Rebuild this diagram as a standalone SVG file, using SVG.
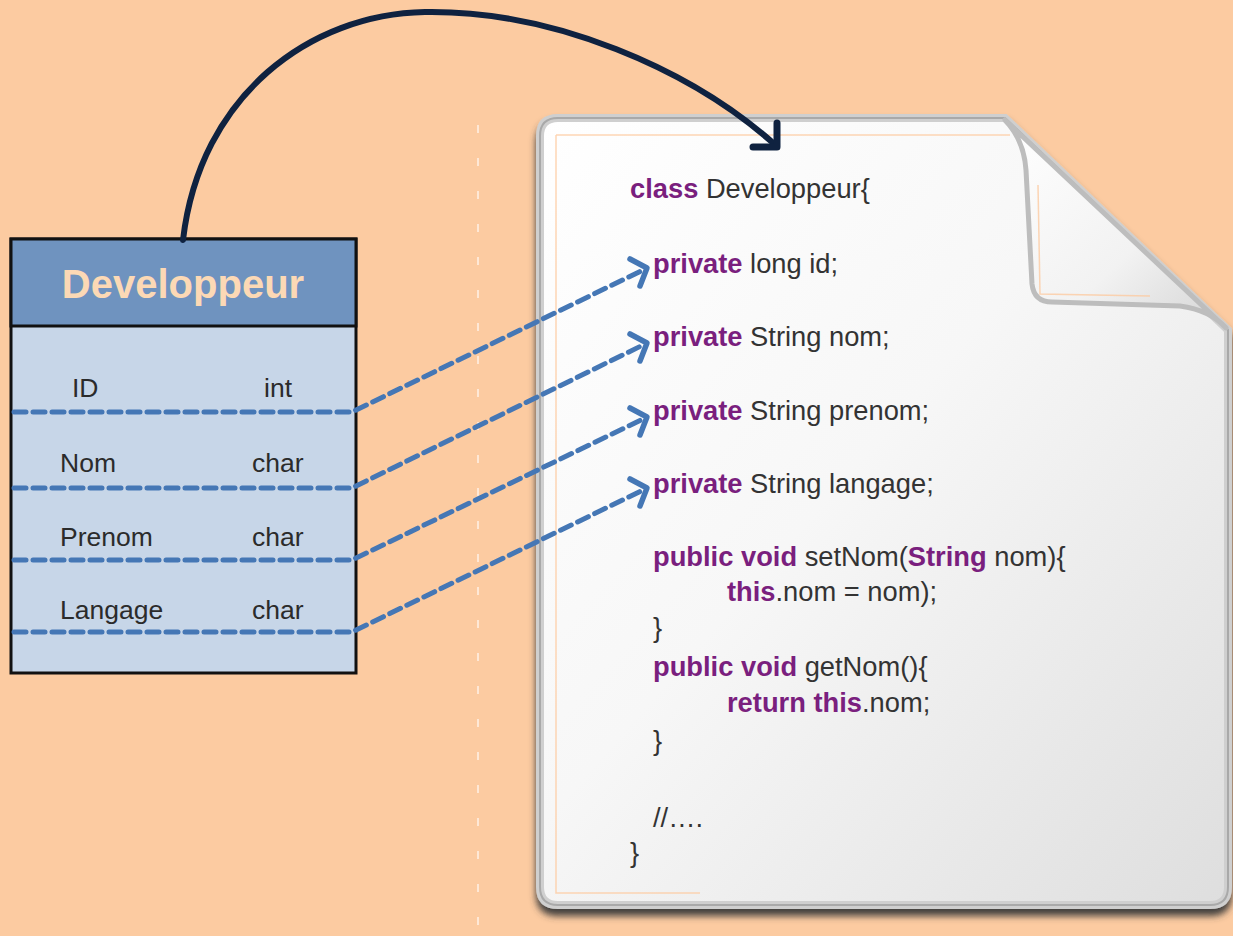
<svg xmlns="http://www.w3.org/2000/svg" width="1233" height="936" viewBox="0 0 1233 936">
  <defs>
    <style>
      .code { font-family: "Liberation Sans", Arial, sans-serif; font-size: 27.3px; fill: #333333; }
      .kw { fill: #7A1F7E; font-weight: bold; }
      .row { font-family: "Liberation Sans", Arial, sans-serif; font-size: 26.5px; fill: #2b2b2b; }
      .map { fill: none; stroke: #4577B5; stroke-width: 5; stroke-dasharray: 12 7; stroke-linecap: round; }
      .head { fill: none; stroke: #4577B5; stroke-width: 5.5; stroke-linecap: round; stroke-linejoin: round; }
    </style>
    <linearGradient id="pageGrad" x1="0" y1="0" x2="1" y2="1">
      <stop offset="0" stop-color="#ffffff"/>
      <stop offset="0.45" stop-color="#f7f7f7"/>
      <stop offset="1" stop-color="#dedede"/>
    </linearGradient>
    <linearGradient id="flapGrad" x1="0" y1="0" x2="1" y2="1">
      <stop offset="0" stop-color="#ffffff"/>
      <stop offset="0.6" stop-color="#f2f2f2"/>
      <stop offset="1" stop-color="#d4d4d4"/>
    </linearGradient>
    <filter id="shadow" x="-5%" y="-5%" width="110%" height="112%">
      <feDropShadow dx="0" dy="7" stdDeviation="3.5" flood-color="#3a3a3a" flood-opacity="0.95"/>
    </filter>
  </defs>

  <rect x="0" y="0" width="1233" height="936" fill="#FCCBA1"/>

  <!-- faint vertical divider -->
  <line x1="478" y1="125" x2="478" y2="936" stroke="#ffffff" stroke-opacity="0.75" stroke-width="1.5" stroke-dasharray="8 25"/>

  <!-- document node -->
  <g id="document">
    <path d="M558,118 L1005,118 L1228,330 L1228,887 Q1228,905 1210,905 L558,905 Q540,905 540,887 L540,136 Q540,118 558,118 Z" fill="url(#pageGrad)" stroke="#cfcfcf" stroke-width="8" filter="url(#shadow)"/>
    <path d="M558,118 L1005,118 L1228,330 L1228,887 Q1228,905 1210,905 L558,905 Q540,905 540,887 L540,136 Q540,118 558,118 Z" fill="none" stroke="#a9a9a9" stroke-width="2"/>
    <path d="M556,135 L1010,135 M556,135 L556,893 L700,893" fill="none" stroke="#FCCBA1" stroke-width="1.5" stroke-opacity="0.8"/>
    <!-- folded corner -->
    <path d="M1005,120 Q1024,140 1026,170 L1032,284 Q1034,302 1052,302 L1180,306 Q1210,310 1226,328 Z" fill="url(#flapGrad)" stroke="#bdbdbd" stroke-width="5" stroke-linejoin="round"/>
    <path d="M1038,185 L1040,294 L1150,296" fill="none" stroke="#FCCBA1" stroke-width="1.5" stroke-opacity="0.8"/>
    <text class="code">
      <tspan x="630" y="198"><tspan class="kw">class</tspan> Developpeur{</tspan>
      <tspan x="653" y="273"><tspan class="kw">private</tspan> long id;</tspan>
      <tspan x="653" y="346"><tspan class="kw">private</tspan> String nom;</tspan>
      <tspan x="653" y="420"><tspan class="kw">private</tspan> String prenom;</tspan>
      <tspan x="653" y="493"><tspan class="kw">private</tspan> String langage;</tspan>
      <tspan x="653" y="566"><tspan class="kw">public void</tspan> setNom(<tspan class="kw">String</tspan> nom){</tspan>
      <tspan x="727" y="601"><tspan class="kw">this</tspan>.nom = nom);</tspan>
      <tspan x="653" y="637">}</tspan>
      <tspan x="653" y="676"><tspan class="kw">public void</tspan> getNom(){</tspan>
      <tspan x="727" y="712"><tspan class="kw">return this</tspan>.nom;</tspan>
      <tspan x="653" y="750">}</tspan>
      <tspan x="653" y="827">//….</tspan>
      <tspan x="630" y="862">}</tspan>
    </text>
  </g>

  <!-- table node -->
  <g id="table-developpeur">
    <rect x="11" y="239" width="345" height="434" fill="#C7D6E8" stroke="#111111" stroke-width="3"/>
    <rect x="11" y="239" width="345" height="87" fill="#6F93BF" stroke="#111111" stroke-width="3"/>
    <text x="183" y="298" text-anchor="middle" font-family="Liberation Sans, Arial, sans-serif" font-size="40" font-weight="bold" fill="#FCD9B5">Developpeur</text>
    <text class="row" x="72" y="397">ID</text>
    <text class="row" x="264" y="397">int</text>
    <text class="row" x="60" y="472">Nom</text>
    <text class="row" x="252" y="472">char</text>
    <text class="row" x="60" y="546">Prenom</text>
    <text class="row" x="252" y="546">char</text>
    <text class="row" x="60" y="619">Langage</text>
    <text class="row" x="252" y="619">char</text>
  </g>

  <!-- connectors -->
  <g id="connectors">
    <path class="map" d="M14,412 L352,412 L643,270"/>
    <path class="head" d="M630,259 L647,268 L640,286"/>
    <path class="map" d="M14,488 L352,488 L643,345"/>
    <path class="head" d="M630,334 L647,343 L640,361"/>
    <path class="map" d="M14,560 L352,560 L643,419"/>
    <path class="head" d="M630,408 L647,417 L640,435"/>
    <path class="map" d="M14,632 L352,632 L643,490"/>
    <path class="head" d="M630,479 L647,488 L640,506"/>

    <path d="M183,240 C200,95 310,14 425,12 C555,10 690,70 772,142" fill="none" stroke="#0F2240" stroke-width="6" stroke-linecap="round"/>
    <path d="M777,123 L777,147 L753,147" fill="none" stroke="#0F2240" stroke-width="7" stroke-linecap="round" stroke-linejoin="round"/>
  </g>
</svg>
